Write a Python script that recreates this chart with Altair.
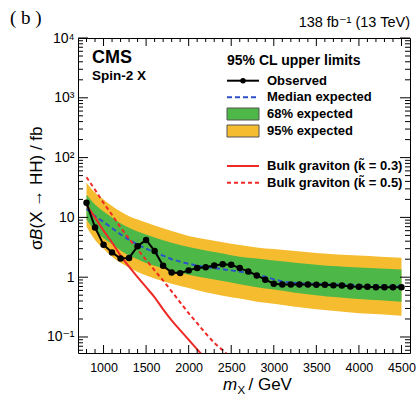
import altair as alt
import pandas as pd

FONT = "Liberation Sans, Arial, DejaVu Sans"
SERIF = "Liberation Serif, DejaVu Serif"

# ---------------- data ----------------
mass = [800, 900, 1000, 1100, 1200, 1300, 1400, 1500, 1600, 1700,
        1800, 1900, 2000, 2100, 2200, 2300, 2400, 2500, 2600, 2700,
        2800, 2900, 3000, 3100, 3200, 3300, 3400, 3500, 3600, 3700,
        3800, 3900, 4000, 4100, 4200, 4300, 4400, 4500]
observed = [17.5, 6.8, 3.5, 2.6, 2.05, 2.1, 3.3, 4.2, 2.75, 1.55,
            1.2, 1.17, 1.3, 1.43, 1.47, 1.57, 1.65, 1.62, 1.42, 1.25,
            1.07, 0.91, 0.78, 0.755, 0.755, 0.755, 0.755, 0.75, 0.745, 0.73,
            0.725, 0.70, 0.69, 0.69, 0.68, 0.68, 0.68, 0.68]
median = [14.0, 10.5, 8.4, 6.6, 5.2, 4.2, 3.5, 3.0, 2.6, 2.3,
          2.0, 1.82, 1.68, 1.56, 1.48, 1.42, 1.36, 1.30, 1.24, 1.18,
          1.12, 1.02, 0.92, 0.85, 0.81, 0.79, 0.78, 0.77, 0.76, 0.755,
          0.75, 0.745, 0.74, 0.735, 0.73, 0.725, 0.72, 0.715]

band_mass = [800, 900, 1000, 1100, 1200, 1300, 1400, 1500, 1600, 1800, 2000,
             2200, 2400, 2600, 2800, 3000, 3250, 3500, 3750, 4000, 4250, 4500]
band95_hi = [38, 26, 20, 15.5, 12.5, 10.5, 9.2, 8.2, 7.3, 5.9, 4.9,
             4.3, 3.85, 3.45, 3.15, 2.95, 2.75, 2.55, 2.4, 2.3, 2.2, 2.12]
band68_hi = [24, 16.5, 12.5, 10.0, 8.0, 6.7, 5.8, 5.2, 4.6, 3.75, 3.2,
             2.8, 2.5, 2.2, 2.05, 1.9, 1.75, 1.62, 1.52, 1.45, 1.4, 1.35]
band68_lo = [9.2, 6.0, 4.5, 3.6, 2.8, 2.3, 2.0, 1.72, 1.55, 1.28, 1.1,
             0.97, 0.86, 0.76, 0.68, 0.62, 0.55, 0.5, 0.46, 0.43, 0.41, 0.39]
band95_lo = [7.0, 4.2, 3.0, 2.2, 1.75, 1.45, 1.22, 1.07, 0.95, 0.78, 0.66,
             0.56, 0.49, 0.44, 0.39, 0.36, 0.32, 0.29, 0.27, 0.25, 0.24, 0.227]

grav03_mass = [800, 900, 1000, 1100, 1200, 1300, 1400, 1500, 1600, 1700,
               1800, 1900, 2000, 2100, 2200]
grav03 = [16, 10, 6.0, 3.8, 2.3, 1.5, 1.0, 0.68, 0.46, 0.29,
          0.19, 0.13, 0.09, 0.062, 0.043]
grav05_mass = [800, 900, 1000, 1100, 1200, 1300, 1400, 1500, 1600, 1700,
               1800, 1900, 2000, 2100, 2200, 2300, 2400, 2500]
grav05 = [47, 29, 17.5, 11, 6.8, 4.4, 2.9, 1.95, 1.3, 0.88,
          0.58, 0.38, 0.25, 0.17, 0.115, 0.08, 0.06, 0.044]

x_labels = [1000, 1500, 2000, 2500, 3000, 3500, 4000, 4500]
x_minor = [m for m in range(800, 4600, 100) if m not in x_labels]
y_labels = [0.1, 1, 10, 100, 1000, 10000]
y_minor = [k * 10.0 ** e for e in range(-2, 4) for k in range(2, 10)
           if 0.054 <= k * 10.0 ** e <= 10000]

# ---------------- styling ----------------
W, H = 332, 315
ORANGE = "#F5BC30"
GREEN = "#4DB848"
BLUE = "#2B50C8"
RED = "#EE2A26"

xs = alt.Scale(domain=[700, 4600], nice=False, zero=False)
ys = alt.Scale(type="log", domain=[0.054, 10000], nice=False)

x_axis = alt.Axis(values=x_labels, format="d", ticks=False, domain=False, grid=False,
                  labelFontSize=12.5, labelPadding=8, title=None, labelColor="black",
                  labelFont=FONT, labelOverlap=False)
y_axis = alt.Axis(values=y_labels, ticks=False, domain=False, grid=False,
                  labelFontSize=14, labelPadding=4, title=None, labelColor="black",
                  labelFont=FONT, labelOverlap=False,
                  labelExpr="datum.value >= 9999 ? '10⁴' : datum.value >= 999 ? '10³' : "
                            "datum.value >= 99 ? '10²' : datum.value >= 9 ? '10' : "
                            "datum.value >= 0.9 ? '1' : '10⁻¹'")

X = lambda f: alt.X(f, type="quantitative", scale=xs, axis=x_axis)
Y = lambda f: alt.Y(f, type="quantitative", scale=ys, axis=y_axis)

obs_df = pd.DataFrame({"m": mass, "obs": observed, "med": median})
band_df = pd.DataFrame({"m": band_mass, "o_lo": band95_lo, "o_hi": band95_hi,
                        "g_lo": band68_lo, "g_hi": band68_hi})
g3_df = pd.DataFrame({"m": grav03_mass, "v": grav03})
g5_df = pd.DataFrame({"m": grav05_mass, "v": grav05})

layers = []
layers.append(alt.Chart(band_df).mark_area(color=ORANGE, interpolate="monotone", clip=True)
              .encode(x=X("m"), y=Y("o_lo"), y2="o_hi"))
layers.append(alt.Chart(band_df).mark_area(color=GREEN, interpolate="monotone", clip=True)
              .encode(x=X("m"), y=Y("g_lo"), y2="g_hi"))
layers.append(alt.Chart(obs_df).mark_line(color=BLUE, strokeWidth=2, strokeDash=[5, 3], clip=True)
              .encode(x=X("m"), y=Y("med")))
layers.append(alt.Chart(g3_df).mark_line(color=RED, strokeWidth=2, interpolate="monotone", clip=True)
              .encode(x=X("m"), y=Y("v")))
layers.append(alt.Chart(g5_df).mark_line(color=RED, strokeWidth=2, strokeDash=[4, 3],
                                         interpolate="monotone", clip=True)
              .encode(x=X("m"), y=Y("v")))
layers.append(alt.Chart(obs_df).mark_line(color="black", strokeWidth=2, clip=True)
              .encode(x=X("m"), y=Y("obs")))
layers.append(alt.Chart(obs_df).mark_circle(color="black", size=42, opacity=1, clip=True)
              .encode(x=X("m"), y=Y("obs")))

# ---------------- inward ticks on all four sides ----------------
xmaj = pd.DataFrame({"v": x_labels})
xmin = pd.DataFrame({"v": x_minor})
ymaj = pd.DataFrame({"v": y_labels})
ymin = pd.DataFrame({"v": y_minor})
for df, ln in ((xmaj, 8), (xmin, 4)):
    layers.append(alt.Chart(df).mark_rule(color="black", strokeWidth=1)
                  .encode(x=X("v"), y=alt.value(H), y2=alt.value(H - ln)))
    layers.append(alt.Chart(df).mark_rule(color="black", strokeWidth=1)
                  .encode(x=X("v"), y=alt.value(0), y2=alt.value(ln)))
for df, ln in ((ymaj, 10), (ymin, 5)):
    layers.append(alt.Chart(df).mark_rule(color="black", strokeWidth=1)
                  .encode(y=Y("v"), x=alt.value(0), x2=alt.value(ln)))
    layers.append(alt.Chart(df).mark_rule(color="black", strokeWidth=1)
                  .encode(y=Y("v"), x=alt.value(W), x2=alt.value(W - ln)))

# ---------------- text & legend ----------------
one = pd.DataFrame({"a": [0]})


def label(text, x, y, size, weight="normal", style="normal", align="left",
          baseline="alphabetic", angle=0, font=FONT):
    return alt.Chart(one).mark_text(text=text, fontSize=size, fontWeight=weight,
                                    fontStyle=style, align=align, baseline=baseline,
                                    angle=angle, font=font, color="black").encode(
        x=alt.value(x), y=alt.value(y))


layers += [
    label("( b )", -68, -14, 19, font=SERIF),
    label("138 fb⁻¹ (13 TeV)", W, -11, 14.5, align="right"),
    label("CMS", 14, 25, 18, weight="bold"),
    label("Spin-2 X", 14, 41.5, 13.5, weight="bold"),
    label("95% CL upper limits", 149, 27, 14, weight="bold"),
    label("Observed", 189, 42.7, 13, weight="bold", baseline="middle"),
    label("Median expected", 189, 59.3, 13, weight="bold", baseline="middle"),
    label("68% expected", 189, 76, 13, weight="bold", baseline="middle"),
    label("95% expected", 189, 93, 13, weight="bold", baseline="middle"),
    label("Bulk graviton (k\u0303 = 0.3)", 189, 128, 13, weight="bold", baseline="middle"),
    label("Bulk graviton (k\u0303 = 0.5)", 189, 144.7, 13, weight="bold", baseline="middle"),
    # x title
    label("m", 145, 352, 17, style="italic"),
    label("X", 159.5, 355.5, 11.5),
    label("/ GeV", 170.5, 352, 17),
    # y title
    label("σ", -36, 212, 17, angle=270),
    label("B", -36, 202, 17, style="italic", angle=270),
    label("(X → HH) / fb", -36, 190.5, 17, angle=270),
]

# legend symbols
layers.append(alt.Chart(one).mark_rule(color="black", strokeWidth=2)
              .encode(x=alt.value(149), x2=alt.value(181), y=alt.value(42.7)))
layers.append(alt.Chart(one).mark_circle(color="black", size=30, opacity=1)
              .encode(x=alt.value(165), y=alt.value(42.7)))
layers.append(alt.Chart(one).mark_rule(color=BLUE, strokeWidth=2, strokeDash=[5, 3])
              .encode(x=alt.value(149), x2=alt.value(181), y=alt.value(59.3)))
layers.append(alt.Chart(one).mark_rect(color=GREEN, stroke="#555555", strokeWidth=1)
              .encode(x=alt.value(149), x2=alt.value(181), y=alt.value(70), y2=alt.value(82)))
layers.append(alt.Chart(one).mark_rect(color=ORANGE, stroke="#555555", strokeWidth=1)
              .encode(x=alt.value(149), x2=alt.value(181), y=alt.value(87), y2=alt.value(99)))
layers.append(alt.Chart(one).mark_rule(color=RED, strokeWidth=2)
              .encode(x=alt.value(149), x2=alt.value(181), y=alt.value(128)))
layers.append(alt.Chart(one).mark_rule(color=RED, strokeWidth=2, strokeDash=[4, 3])
              .encode(x=alt.value(149), x2=alt.value(181), y=alt.value(144.7)))

chart = alt.layer(*layers).properties(
    width=W, height=H,
    autosize=alt.AutoSizeParams(type="none"),
    padding={"left": 78, "top": 38, "right": 7, "bottom": 44},
    background="white",
).configure_view(stroke="black", strokeWidth=1)

chart.save("out.html", embed_options={"renderer": "svg", "actions": False})
